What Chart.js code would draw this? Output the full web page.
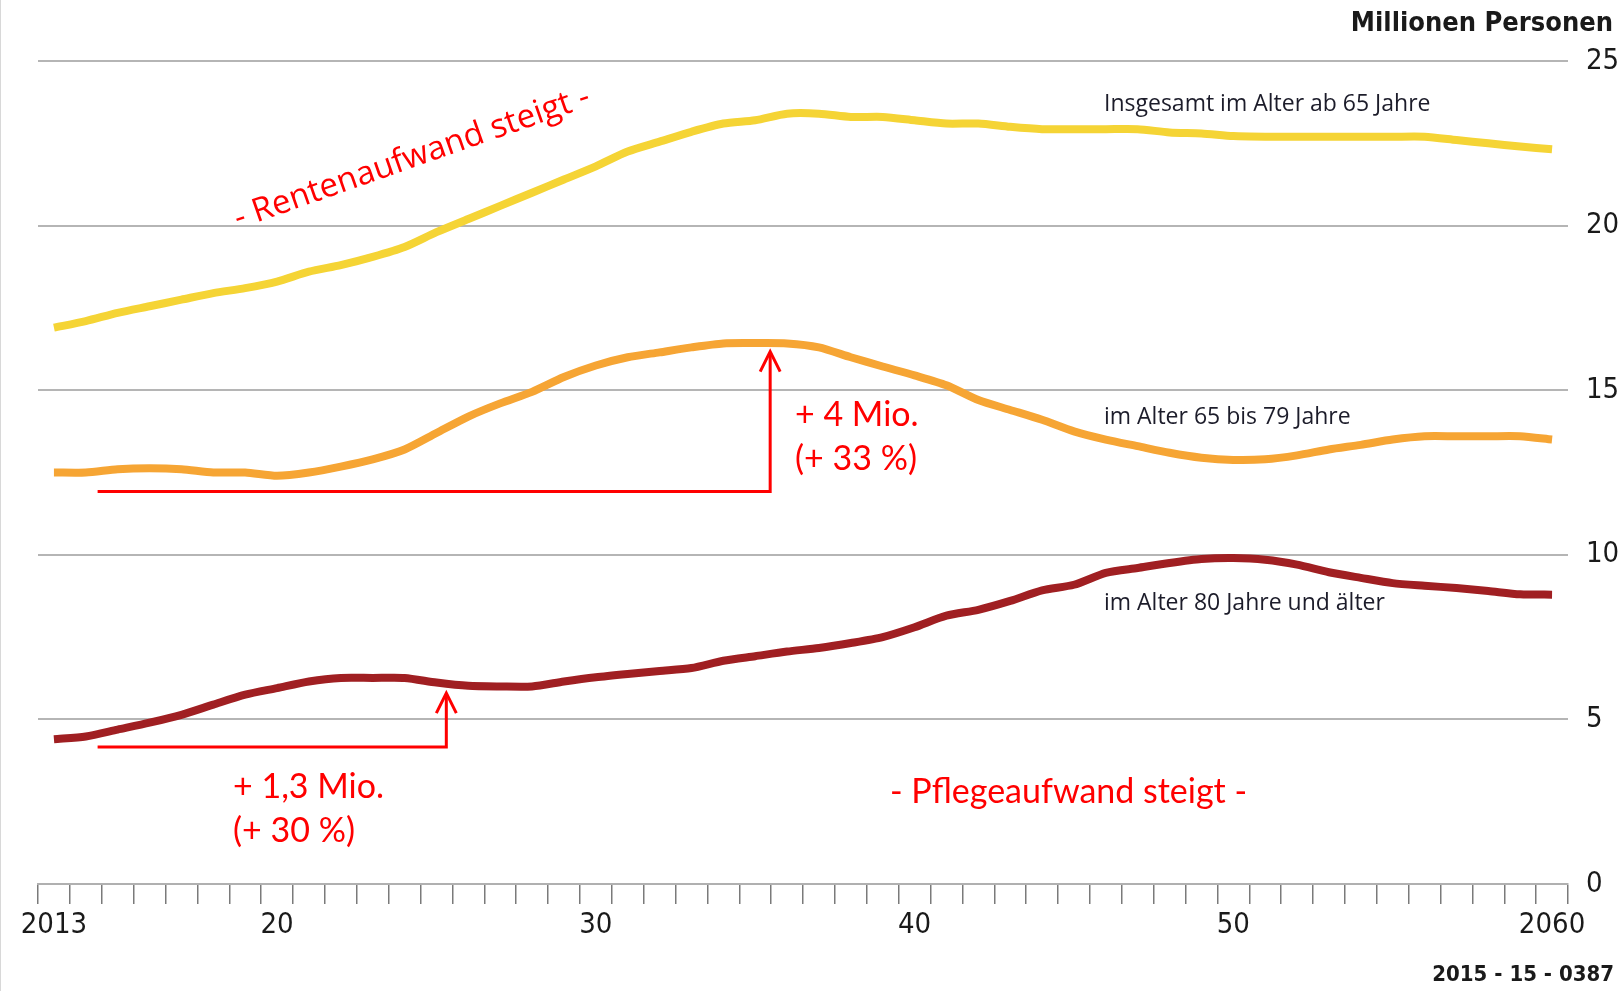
<!DOCTYPE html>
<html>
<head>
<meta charset="utf-8">
<script src="https://cdn.jsdelivr.net/npm/chart.js@4.4.1/dist/chart.umd.min.js"></script>
<style>
  html, body { margin: 0; padding: 0; background: #fff; }
  #wrap { width: 1619px; height: 991px; position: relative; border-left: 1px solid #d8d8d8; box-sizing: border-box; }
</style>
</head>
<body>
<div id="wrap"><canvas id="chart" width="1618" height="991"></canvas></div>
<script>
// Years on the x axis
const years = ['2013', '2014', '2015', '2016', '2017', '2018', '2019', '2020', '2021', '2022',
    '2023', '2024', '2025', '2026', '2027', '2028', '2029', '2030', '2031', '2032',
    '2033', '2034', '2035', '2036', '2037', '2038', '2039', '2040', '2041', '2042',
    '2043', '2044', '2045', '2046', '2047', '2048', '2049', '2050', '2051', '2052',
    '2053', '2054', '2055', '2056', '2057', '2058', '2059', '2060'];

// Millionen Personen
const total65 = [16.9, 17.1, 17.35, 17.55, 17.75, 17.95, 18.1, 18.3, 18.6, 18.8,
    19.05, 19.35, 19.8, 20.2, 20.6, 21.0, 21.4, 21.8, 22.25, 22.55,
    22.85, 23.1, 23.2, 23.4, 23.4, 23.3, 23.3, 23.2, 23.1, 23.1,
    23.0, 22.93, 22.93, 22.93, 22.93, 22.83, 22.8, 22.72, 22.7, 22.7,
    22.7, 22.7, 22.7, 22.7, 22.6, 22.5, 22.4, 22.32];
const age65to79 = [12.5, 12.5, 12.6, 12.63, 12.6, 12.5, 12.5, 12.4, 12.5, 12.68,
    12.9, 13.2, 13.7, 14.2, 14.6, 14.95, 15.4, 15.75, 16.0, 16.15,
    16.3, 16.42, 16.43, 16.42, 16.3, 16.0, 15.72, 15.45, 15.15, 14.7,
    14.4, 14.1, 13.75, 13.5, 13.3, 13.1, 12.95, 12.88, 12.9, 13.02,
    13.2, 13.34, 13.5, 13.6, 13.6, 13.6, 13.6, 13.5];
const age80plus = [4.4, 4.48, 4.69, 4.9, 5.14, 5.45, 5.75, 5.95, 6.15, 6.26,
    6.26, 6.26, 6.12, 6.02, 6.0, 6.0, 6.15, 6.28, 6.38, 6.47,
    6.56, 6.78, 6.92, 7.06, 7.17, 7.32, 7.5, 7.8, 8.15, 8.33,
    8.6, 8.92, 9.09, 9.45, 9.6, 9.75, 9.87, 9.9, 9.85, 9.7,
    9.47, 9.3, 9.14, 9.06, 8.99, 8.9, 8.8, 8.79];

// Labelled years and the text shown under them
const labelYears = ['2013', '2020', '2030', '2040', '2050', '2060'];
const labelTexts = ['2013', '20', '30', '40', '50', '2060'];

const narrow = "'Liberation Sans Narrow', 'DejaVu Sans Condensed', sans-serif";
const red = '#ff0000';

// Red arrows: [from index, to index, base value, tip value]
const arrows = [
    [1.37, 22.47, 11.92, 16.17],
    [1.37, 12.31, 4.16, 5.8]
];

function drawArrow(ctx, x, y, a) {
    const x0 = x.getPixelForValue(a[0]);
    const x1 = x.getPixelForValue(a[1]);
    const yb = y.getPixelForValue(a[2]);
    const yt = y.getPixelForValue(a[3]);
    ctx.strokeStyle = red;
    ctx.lineWidth = 3;
    ctx.lineCap = 'butt';
    ctx.lineJoin = 'miter';
    ctx.beginPath();
    ctx.moveTo(x0, yb);
    ctx.lineTo(x1, yb);
    ctx.lineTo(x1, yt + 1);
    ctx.stroke();
    ctx.beginPath();
    ctx.moveTo(x1 - 10, yt + 20);
    ctx.lineTo(x1, yt);
    ctx.lineTo(x1 + 10, yt + 20);
    ctx.stroke();
}

function text(ctx, str, px, py, font, color, align) {
    ctx.font = font;
    ctx.fillStyle = color;
    ctx.textAlign = align || 'left';
    ctx.textBaseline = 'middle';
    ctx.fillText(str, px, py);
}

const annotations = {
    id: 'annotations',
    afterDatasetsDraw(chart) {
        const ctx = chart.ctx;
        const x = chart.scales.x;
        const y = chart.scales.y;
        ctx.save();
        arrows.forEach(a => drawArrow(ctx, x, y, a));

        // series labels
        const small = "23px 'Open Sans', sans-serif";
        text(ctx, 'Insgesamt im Alter ab 65 Jahre', 1103, 104, small, '#1c1c2a');
        text(ctx, 'im Alter 65 bis 79 Jahre', 1103, 417, small, '#1c1c2a');
        text(ctx, 'im Alter 80 Jahre und älter', 1103, 603, small, '#1c1c2a');

        // red comments
        const big = "34px Lato, sans-serif";
        text(ctx, '+ 4 Mio.', 794, 415, big, red);
        text(ctx, '(+ 33 %)', 794, 459, big, red);
        text(ctx, '+ 1,3 Mio.', 232, 787, big, red);
        text(ctx, '(+ 30 %)', 232, 831, big, red);
        text(ctx, '- Pflegeaufwand steigt -', 889, 792, big, red);

        ctx.save();
        ctx.translate(411, 158);
        ctx.rotate(-19.3 * Math.PI / 180);
        text(ctx, '- Rentenaufwand steigt -', 0, 0, "33px 'Open Sans', sans-serif", red, 'center');
        ctx.restore();

        // unit and source
        text(ctx, 'Millionen Personen', 1612, 24, "bold 27px " + narrow, '#1a1a1a', 'right');
        text(ctx, '2015 - 15 - 0387', 1613, 975, "bold 22px " + narrow, '#1a1a1a', 'right');
        ctx.restore();
    }
};

new Chart(document.getElementById('chart'), {
    type: 'line',
    data: {
        labels: years,
        datasets: [
            {
                label: 'Insgesamt im Alter ab 65 Jahre',
                data: total65,
                borderColor: '#f5d435',
                borderWidth: 8,
                pointRadius: 0,
                tension: 0.25
            },
            {
                label: 'im Alter 65 bis 79 Jahre',
                data: age65to79,
                borderColor: '#f6a534',
                borderWidth: 8,
                pointRadius: 0,
                tension: 0.25
            },
            {
                label: 'im Alter 80 Jahre und älter',
                data: age80plus,
                borderColor: '#a01f22',
                borderWidth: 8,
                pointRadius: 0,
                tension: 0.25
            }
        ]
    },
    options: {
        responsive: false,
        animation: false,
        devicePixelRatio: 1,
        layout: { padding: { top: 61, left: 37, right: 0, bottom: 47 } },
        plugins: {
            legend: { display: false },
            tooltip: { enabled: false }
        },
        scales: {
            x: {
                offset: true,
                grid: {
                    offset: true,
                    drawOnChartArea: false,
                    drawTicks: true,
                    tickLength: 20,
                    color: '#7a7a7a',
                    lineWidth: 1.5
                },
                border: { display: true, color: '#b0b0b0', width: 2 },
                ticks: {
                    autoSkip: false,
                    maxRotation: 0,
                    padding: 4,
                    color: '#1a1a1a',
                    font: { family: narrow, size: 29 },
                    callback: function(value, index) {
                        const pos = labelYears.indexOf(years[index]);
                        return pos >= 0 ? labelTexts[pos] : '';
                    }
                },
                afterFit: function(scale) { scale.height = 60; }
            },
            y: {
                position: 'right',
                min: 0,
                max: 25,
                grid: { color: '#b5b5b5', lineWidth: 2, drawTicks: false },
                border: { display: false },
                ticks: {
                    stepSize: 5,
                    padding: 18,
                    color: '#1a1a1a',
                    font: { family: narrow, size: 29 }
                },
                afterFit: function(scale) { scale.width = 51; }
            }
        }
    },
    plugins: [annotations]
});
</script>
</body>
</html>
